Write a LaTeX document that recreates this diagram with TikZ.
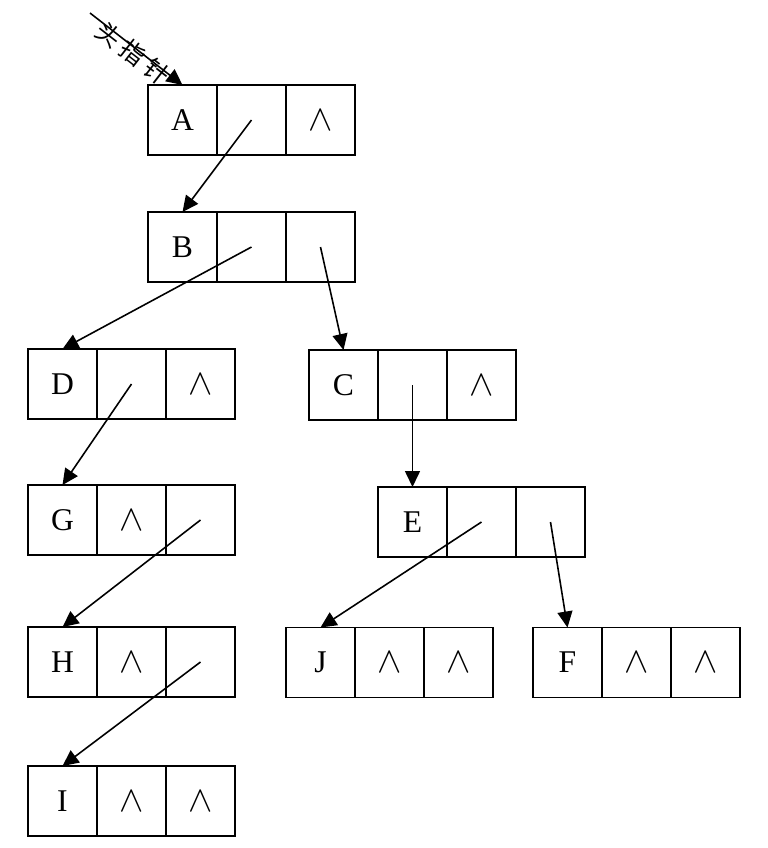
\documentclass[tikz,border=0pt]{standalone}
\usepackage{fontspec}
\setmainfont{Liberation Serif}
\newfontfamily\cjk{Noto Sans CJK SC}
\usetikzlibrary{arrows.meta,positioning}

\begin{document}
\begin{tikzpicture}[
    node distance=0pt,
    cell/.style={rectangle, draw, line width=1pt, outer sep=0pt, inner sep=0pt, minimum width=1.38cm, minimum height=1.40cm, font=\fontsize{18}{20}\selectfont},
    nil/.style={cell, font=\fontsize{20}{22}\selectfont},
    arrow/.style={-{Triangle[length=3.2mm, width=3mm]}, line width=0.9pt}
  ]
    \useasboundingbox (0,0) rectangle (15.36,-16.96);
    % records: data | left child | right child
    \node[cell] (A1) at (3.65,-2.40) {A};
    \node[cell, right=of A1] (A2) {};
    \node[nil, right=of A2] (A3) {$\wedge$};
    \node[cell] (B1) at (3.65,-4.94) {B};
    \node[cell, right=of B1] (B2) {};
    \node[cell, right=of B2] (B3) {};
    \node[cell] (D1) at (1.25,-7.68) {D};
    \node[cell, right=of D1] (D2) {};
    \node[nil, right=of D2] (D3) {$\wedge$};
    \node[cell] (C1) at (6.87,-7.70) {C};
    \node[cell, right=of C1] (C2) {};
    \node[nil, right=of C2] (C3) {$\wedge$};
    \node[cell] (G1) at (1.25,-10.40) {G};
    \node[nil, right=of G1] (G2) {$\wedge$};
    \node[cell, right=of G2] (G3) {};
    \node[cell] (E1) at (8.25,-10.44) {E};
    \node[cell, right=of E1] (E2) {};
    \node[cell, right=of E2] (E3) {};
    \node[cell] (H1) at (1.25,-13.24) {H};
    \node[nil, right=of H1] (H2) {$\wedge$};
    \node[cell, right=of H2] (H3) {};
    \node[cell] (J1) at (6.41,-13.25) {J};
    \node[nil, right=of J1] (J2) {$\wedge$};
    \node[nil, right=of J2] (J3) {$\wedge$};
    \node[cell] (F1) at (11.35,-13.25) {F};
    \node[nil, right=of F1] (F2) {$\wedge$};
    \node[nil, right=of F2] (F3) {$\wedge$};
    \node[cell] (I1) at (1.25,-16.02) {I};
    \node[nil, right=of I1] (I2) {$\wedge$};
    \node[nil, right=of I2] (I3) {$\wedge$};
    % head pointer
    \coordinate (head) at (1.80,-0.26);
    \draw[arrow] (head) -- node[sloped, pos=0.5, yshift=-3pt, font=\cjk\fontsize{14}{16}\selectfont] {头\hspace{3pt}指\hspace{3pt}针} (A1.north);
    % child links
    \draw[arrow] (A2.center) -- (B1.north);
    \draw[arrow] (B2.center) -- (D1.north);
    \draw[arrow] (B3.center) -- (C1.north);
    \draw[arrow] (D2.center) -- (G1.north);
    \draw[arrow] (C2.center) -- (E1.north);
    \draw[arrow] (G3.center) -- (H1.north);
    \draw[arrow] (E2.center) -- (J1.north);
    \draw[arrow] (E3.center) -- (F1.north);
    \draw[arrow] (H3.center) -- (I1.north);
\end{tikzpicture}
\end{document}
